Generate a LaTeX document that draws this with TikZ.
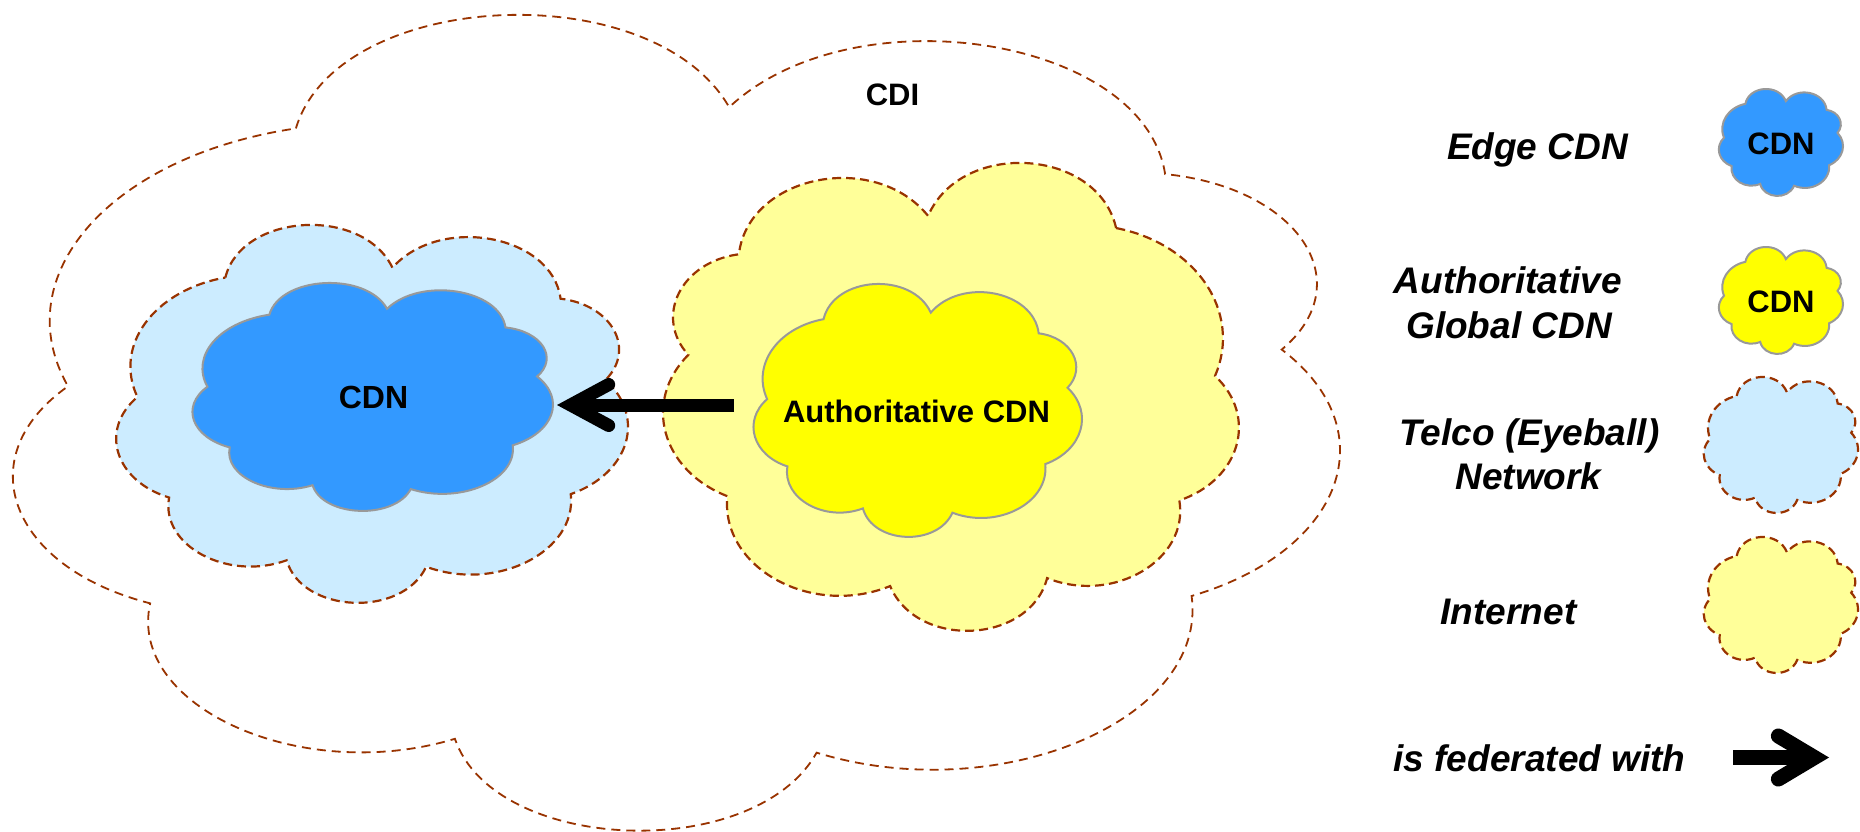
\documentclass[tikz,border=0pt]{standalone}
\usepackage{fontspec}
\setmainfont{Liberation Sans}
\usetikzlibrary{arrows.meta}
\definecolor{edgeblue}{HTML}{3399FF}
\definecolor{telcoblue}{HTML}{CCECFF}
\definecolor{cdnyellow}{HTML}{FFFF00}
\definecolor{netyellow}{HTML}{FFFF99}
\definecolor{dashbrown}{HTML}{993300}
\definecolor{outlinegray}{HTML}{999999}
% cloud outline in a 0..100 x 0..100 frame (y downwards)
\newcommand\drawcloud[1]{%
  \path[#1] (21.2,13.9)
   .. controls (24.34,-3.2) and (48.1,-5.1) .. (53.9,11.3)
   .. controls (63.24,-2.87) and (85.2,2.61) .. (86.8,19.5)
   .. controls (96.85,21.12) and (101.63,32.8) .. (95.6,41.0)
   .. controls (103.62,50.9) and (100.28,65.7) .. (88.8,71.2)
   .. controls (90.07,86.45) and (74.19,97.21) .. (60.5,90.4)
   .. controls (55.8,104.0) and (36.18,102.78) .. (33.2,88.7)
   .. controls (21.67,94.35) and (8.47,84.83) .. (10.2,72.1)
   .. controls (-0.41,67.68) and (-3.57,54.16) .. (4.0,45.5)
   .. controls (-0.76,31.94) and (7.22,17.26) .. (21.2,13.9) -- cycle;}
\tikzset{
  box/.style 2 args={minimum width=#1pt, minimum height=#2pt, inner sep=0pt, outer sep=0pt},
  cdicloud/.style={draw=dashbrown, fill=white, line width=1.8pt, dash pattern=on 9pt off 6pt},
  netdash/.style={draw=dashbrown, line width=2.2pt, dash pattern=on 9pt off 5pt},
  telcocloud/.style={netdash, fill=telcoblue},
  netcloud/.style={netdash, fill=netyellow},
  edgecloud/.style={draw=outlinegray, line width=2pt, fill=edgeblue},
  authcloud/.style={draw=outlinegray, line width=2pt, fill=cdnyellow},
  lbl/.style={inner sep=0pt, anchor=base, font=\bfseries\fontsize{31}{37}\selectfont},
  leg/.style={inner sep=0pt, anchor=base, font=\bfseries\itshape\fontsize{37}{44}\selectfont},
  fed/.style={line width=13pt, -{Straight Barb[length=38pt, width=41pt, line cap=round, line join=miter]}},
  legfedarrow/.style={line width=15pt, -{Straight Barb[length=36pt, width=43pt, line cap=round, line join=miter]}},
}
\begin{document}
\begin{tikzpicture}[x=1pt, y=-1pt]
\fill[white] (0,0) rectangle (1860,832);
\useasboundingbox (0,0) rectangle (1860,832);
% frames of the clouds
\node[box={1325}{816}] (cdibox) at (677.5,423) {};
\node[box={511}{378}] (telcobox) at (372.5,414) {};
\node[box={360}{228}] (cdnbox) at (373,397) {};
\node[box={575}{468}] (netbox) at (950.5,397) {};
\node[box={328}{253}] (acdnbox) at (918,410.5) {};
\node[box={124}{107}] (legedgebox) at (1781,142.5) {};
\node[box={124}{107}] (legauthbox) at (1781,300.5) {};
\node[box={154}{136}] (legtelcobox) at (1781,445) {};
\node[box={154}{136}] (legnetbox) at (1781,605) {};
% clouds
\drawcloud{cdicloud, shift={(cdibox.north west)}, xscale=13.25, yscale=8.16}
\drawcloud{telcocloud, shift={(telcobox.north west)}, xscale=5.11, yscale=3.78}
\drawcloud{edgecloud, shift={(cdnbox.north west)}, xscale=3.60, yscale=2.28}
\drawcloud{netcloud, shift={(netbox.north east)}, xscale=-5.75, yscale=4.68}
\drawcloud{authcloud, shift={(acdnbox.north west)}, xscale=3.28, yscale=2.53}
% labels
\node[lbl] (cdi) at (892.5,106) {CDI};
\node[lbl, font=\bfseries\fontsize{32}{38}\selectfont] (cdn) at (373.5,408) {CDN};
\node[lbl] (auth) at (916.5,422) {Authoritative CDN};
% federation arrow
\coordinate (fedtail) at ([xshift=-20pt,yshift=5.5pt]acdnbox.west);
\coordinate[xshift=4pt] (fedtip) at (fedtail -| cdnbox.east);
\draw[fed] (fedtail) -- (fedtip);
% legend
\drawcloud{edgecloud, shift={(legedgebox.north west)}, xscale=1.24, yscale=1.07}
\drawcloud{authcloud, shift={(legauthbox.north west)}, xscale=1.24, yscale=1.07}
\drawcloud{telcocloud, shift={(legtelcobox.north west)}, xscale=1.54, yscale=1.36}
\drawcloud{netcloud, shift={(legnetbox.north west)}, xscale=1.54, yscale=1.36}
\node[lbl] (legcdn1) at (1781,154) {CDN};
\node[lbl] (legcdn2) at (1781,312) {CDN};
\node[leg] (legedge) at (1537.5,159) {Edge CDN};
\node[leg] (legauth1) at (1508,293) {Authoritative};
\node[leg] (legauth2) at (1509,338) {Global CDN};
\node[leg] (legtelco1) at (1529.5,445) {Telco (Eyeball)};
\node[leg] (legtelco2) at (1528.5,489) {Network};
\node[leg] (leginet) at (1508.5,624) {Internet};
\node[leg] (legfed) at (1539.5,771) {is federated with};
\coordinate (legarrowtail) at (1733,757.5);
\coordinate (legarrowtip) at (1829,757.5);
\draw[legfedarrow] (legarrowtail) -- (legarrowtip);
\end{tikzpicture}
\end{document}
